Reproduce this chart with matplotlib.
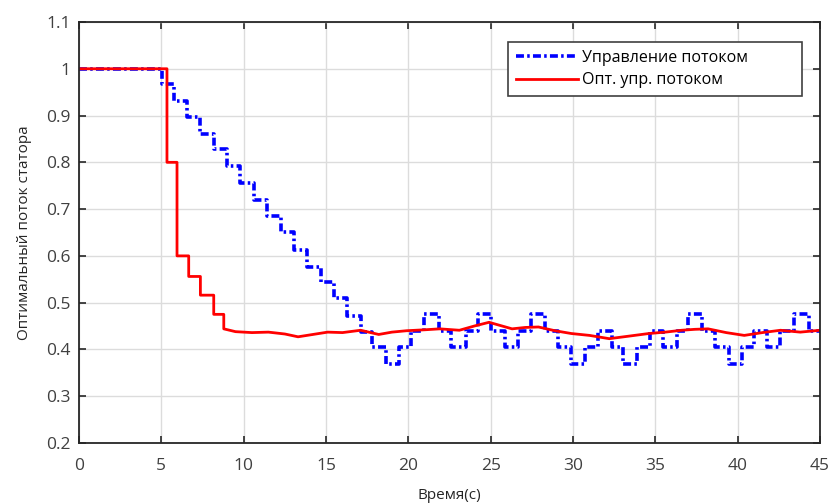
import matplotlib
matplotlib.use("Agg")
import matplotlib.pyplot as plt

plt.rcParams['font.family'] = ['Open Sans', 'DejaVu Sans']

# flux control (quantized, blue) - step times and levels
blue_t = [0, 5.03, 5.75, 6.56, 7.37, 8.18, 8.99, 9.80, 10.61, 11.42,
          12.24, 13.05, 13.86, 14.67, 15.48, 16.30, 17.11, 17.82, 18.64, 19.45,
          20.16, 20.97, 21.88, 22.59, 23.51, 24.22, 25.03, 25.84, 26.66, 27.47,
          28.28, 29.09, 29.90, 30.72, 31.53, 32.34, 33.05, 33.86, 34.67, 35.49,
          36.30, 37.01, 37.82, 38.63, 39.45, 40.26, 40.97, 41.78, 42.59, 43.40,
          44.32, 45]
blue_v = [1.0, 0.968, 0.932, 0.896, 0.860, 0.828, 0.792, 0.756, 0.720, 0.685,
          0.652, 0.613, 0.577, 0.545, 0.509, 0.471, 0.437, 0.405, 0.369, 0.405,
          0.440, 0.475, 0.440, 0.405, 0.440, 0.475, 0.440, 0.405, 0.440, 0.475,
          0.440, 0.405, 0.369, 0.405, 0.440, 0.405, 0.369, 0.405, 0.440, 0.405,
          0.440, 0.475, 0.440, 0.405, 0.369, 0.405, 0.440, 0.405, 0.440, 0.475,
          0.440, 0.440]

# optimal flux control (red)
red_t = [0, 5.34, 5.34, 5.95, 5.95, 6.66, 6.66, 7.37, 7.37, 8.18,
         8.18, 8.79, 8.79, 9.5, 10.5, 11.5, 12.5, 13.3, 14.2, 15.1,
         16.0, 17.1, 18.2, 19.0, 19.9, 21.0, 21.9, 23.1, 24.0, 24.9,
         25.5, 26.3, 27.1, 27.9, 28.9, 29.9, 31.0, 32.2, 33.3, 34.6,
         35.6, 36.6, 37.4, 38.2, 39.3, 40.4, 41.5, 42.6, 43.8, 45]
red_v = [1.0, 1.0, 0.80, 0.80, 0.60, 0.60, 0.556, 0.556, 0.516, 0.516,
         0.475, 0.475, 0.444, 0.438, 0.436, 0.437, 0.433, 0.427, 0.432, 0.437,
         0.436, 0.441, 0.432, 0.437, 0.440, 0.442, 0.444, 0.441, 0.450, 0.458,
         0.452, 0.444, 0.447, 0.448, 0.440, 0.434, 0.430, 0.423, 0.428, 0.434,
         0.437, 0.441, 0.443, 0.444, 0.436, 0.430, 0.436, 0.441, 0.437, 0.441]

xticks = [0, 5, 10, 15, 20, 25, 30, 35, 40, 45]
yticks = [0.2, 0.3, 0.4, 0.5, 0.6, 0.7, 0.8, 0.9, 1.0, 1.1]
ytick_labels = ['0.2', '0.3', '0.4', '0.5', '0.6', '0.7', '0.8', '0.9', '1', '1.1']

fig = plt.figure(figsize=(8.32, 5.03), dpi=100)
ax = fig.add_axes([0.095, 0.1193, 0.8906, 0.837])

ax.plot(blue_t, blue_v, drawstyle='steps-post', color='#0000ff', lw=2.6,
        linestyle=(0, (2.2, 0.9, 0.7, 0.9)), label='Управление потоком')
ax.plot(red_t, red_v, color='#ff0000', lw=2.0, label='Опт. упр. потоком')

ax.set_xlim(0, 45)
ax.set_ylim(0.2, 1.1)
ax.set_xticks(xticks)
ax.set_yticks(yticks)
ax.set_yticklabels(ytick_labels)
ax.grid(True, color='#dcdcdc', lw=1.0)
ax.set_axisbelow(True)
ax.tick_params(direction='in', top=True, right=True, length=5, width=1.2,
               labelsize=12.5, colors='#262626')
ax.tick_params(axis='x', pad=11)
ax.tick_params(axis='y', pad=6)
for s in ax.spines.values():
    s.set_color('#262626')
    s.set_linewidth(1.3)
for lab in ax.get_xticklabels() + ax.get_yticklabels():
    lab.set_color('#404040')

ax.set_xlabel('Время(с)', fontsize=11, color='#262626', labelpad=10)
ax.set_ylabel('Оптимальный поток статора', fontsize=11, color='#262626', labelpad=10)

leg = ax.legend(loc='upper left', bbox_to_anchor=(0.579, 0.815, 0.397, 0.138),
                mode='expand', fontsize=11.5,
                handlelength=3.9, handletextpad=0.2, borderpad=0.5,
                labelspacing=0.4, fancybox=False, framealpha=1, borderaxespad=0)
leg.get_frame().set_edgecolor('#404040')
leg.get_frame().set_linewidth(1.2)

fig.savefig('out.png', dpi=100)
